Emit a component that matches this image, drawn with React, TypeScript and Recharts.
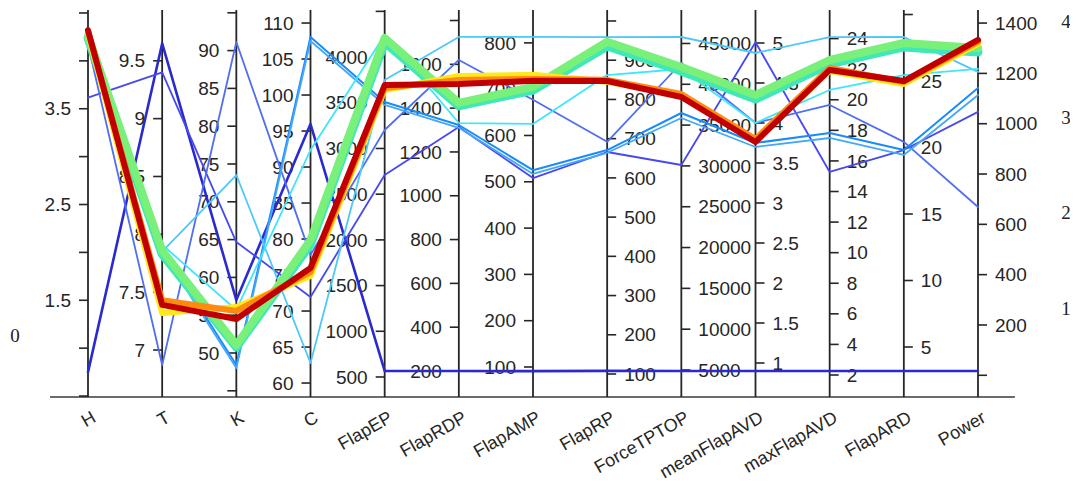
import React from 'react';
import { LineChart, Line, XAxis, YAxis, ReferenceLine, ReferenceDot } from 'recharts';

// ---- dimensions / axes ----
const dims = ['H', 'T', 'K', 'C', 'FlapEP', 'FlapRDP', 'FlapAMP', 'FlapRP', 'ForceTPTOP', 'meanFlapAVD', 'maxFlapAVD', 'FlapARD', 'Power'];
const axisMin = [0.49, 6.594, 44.18, 58.06, 281, 81.3, 35.2, 41.4, 1692, 0.575, 0.561, 1.24, -86.3];
const axisMax = [4.531, 9.939, 95.37, 111.81, 4515, 1848, 871, 1028, 49100, 5.4125, 25.87, 30.34, 1452];
const tickSide = ['left', 'left', 'left', 'left', 'left', 'left', 'left', 'right', 'right', 'right', 'right', 'right', 'right'];

const ticksH = [0.5, 1, 1.5, 2, 2.5, 3, 3.5, 4, 4.5];
const labelsH = ['', '', '1.5', '', '2.5', '', '3.5', '', ''];
const ticksT = [7, 7.5, 8, 8.5, 9, 9.5];
const labelsT = ['7', '7.5', '8', '8.5', '9', '9.5'];
const ticksK = [45, 50, 55, 60, 65, 70, 75, 80, 85, 90, 95];
const labelsK = ['', '50', '55', '60', '65', '70', '75', '80', '85', '90', ''];
const ticksC = [60, 65, 70, 75, 80, 85, 90, 95, 100, 105, 110];
const labelsC = ['60', '65', '70', '75', '80', '85', '90', '95', '100', '105', '110'];
const ticksEP = [500, 1000, 1500, 2000, 2500, 3000, 3500, 4000, 4500];
const labelsEP = ['500', '1000', '1500', '2000', '2500', '3000', '3500', '4000', ''];
const ticksRDP = [200, 400, 600, 800, 1000, 1200, 1400, 1600, 1800];
const labelsRDP = ['200', '400', '600', '800', '1000', '1200', '1400', '1600', ''];
const ticksAMP = [100, 200, 300, 400, 500, 600, 700, 800];
const labelsAMP = ['100', '200', '300', '400', '500', '600', '700', '800'];
const ticksRP = [100, 200, 300, 400, 500, 600, 700, 800, 900, 1000];
const labelsRP = ['100', '200', '300', '400', '500', '600', '700', '800', '900', ''];
const ticksTP = [5000, 10000, 15000, 20000, 25000, 30000, 35000, 40000, 45000];
const labelsTP = ['5000', '10000', '15000', '20000', '25000', '30000', '35000', '40000', '45000'];
const ticksMean = [1, 1.5, 2, 2.5, 3, 3.5, 4, 4.5, 5];
const labelsMean = ['1', '1.5', '2', '2.5', '3', '3.5', '4', '4.5', '5'];
const ticksMax = [2, 4, 6, 8, 10, 12, 14, 16, 18, 20, 22, 24];
const labelsMax = ['2', '4', '6', '8', '10', '12', '14', '16', '18', '20', '22', '24'];
const ticksARD = [5, 10, 15, 20, 25, 30];
const labelsARD = ['5', '10', '15', '20', '25', ''];
const ticksP = [0, 200, 400, 600, 800, 1000, 1200, 1400];
const labelsP = ['', '200', '400', '600', '800', '1000', '1200', '1400'];

const axisTicks = [ticksH, ticksT, ticksK, ticksC, ticksEP, ticksRDP, ticksAMP, ticksRP, ticksTP, ticksMean, ticksMax, ticksARD, ticksP];
const axisLabels = [labelsH, labelsT, labelsK, labelsC, labelsEP, labelsRDP, labelsAMP, labelsRP, labelsTP, labelsMean, labelsMax, labelsARD, labelsP];

// side labels (colour scale labels)
const sideLabels = ['0', '1', '2', '3', '4'];

// ---- series (real units, one value per dimension) ----
const navy = [0.75, 9.65, 57.0, 95.97, 566, 200, 91, 108, 4878, 0.9, 2.26, 3.2, 17];
const blue1 = [3.615, 9.40, 64.68, 71.94, 2710, 1314, 508, 666, 30113, 5.01, 15.28, 19.81, 1047];
const blue2 = [4.17, 6.87, 91.14, 77.8, 3202, 1620, 677, 692, 42608, 4.0, 19.66, 20.42, 669];
const blue3 = [4.26, 7.88, 48.41, 108.06, 3508, 1323, 525, 671, 36483, 3.75, 17.83, 19.81, 1142];
const blue4 = [4.24, 7.85, 48.0, 107.5, 3476, 1310, 517, 664, 35870, 3.70, 17.5, 19.44, 1114];
const cyan1 = [4.22, 7.85, 73.54, 62.78, 3749, 1725, 813, 959, 45793, 4.875, 24.1, 28.31, 1206];
const cyan2 = [4.24, 7.91, 55.69, 92.36, 4241, 1332, 625, 862, 41873, 4.0, 20.64, 25.45, 1218];
const teal = [4.24, 7.83, 50.8, 79.3, 4165, 1410, 698, 936, 41630, 4.30, 22.34, 27.56, 1285];
const green = [4.26, 7.86, 51.06, 79.86, 4209, 1424, 705, 947, 42118, 4.35, 22.6, 27.86, 1301];
const yellow = [4.29, 7.32, 56.08, 74.86, 3640, 1547, 731, 845, 38690, 3.79, 21.88, 24.78, 1317];
const orange = [4.31, 7.43, 55.56, 75.42, 3662, 1528, 722, 850, 38810, 3.80, 22.08, 24.93, 1325];
const red = [4.32, 7.39, 54.5, 75.97, 3694, 1510, 718, 847, 38443, 3.763, 21.95, 25.0, 1333];

const series = [
  { key: 'navy', values: navy, color: '#2a2ad0', width: 2.6 },
  { key: 'blue1', values: blue1, color: '#4848f2', width: 1.8 },
  { key: 'blue2', values: blue2, color: '#4f6ef2', width: 1.8 },
  { key: 'blue3', values: blue3, color: '#1a8cf8', width: 2.0 },
  { key: 'blue4', values: blue4, color: '#45a6fb', width: 1.8 },
  { key: 'cyan1', values: cyan1, color: '#4ec8f7', width: 1.8 },
  { key: 'cyan2', values: cyan2, color: '#3fe6fa', width: 1.8 },
  { key: 'teal', values: teal, color: '#40e8b8', width: 9 },
  { key: 'green', values: green, color: '#78f07a', width: 8 },
  { key: 'yellow', values: yellow, color: '#ffe81c', width: 6 },
  { key: 'orange', values: orange, color: '#ff8a10', width: 6 },
  { key: 'red', values: red, color: '#c00000', width: 6 },
];

const norm = (v: number, i: number) => (v - axisMin[i]) / (axisMax[i] - axisMin[i]);

const rows = dims.map((name, i) => {
  const row: any = { i, name };
  series.forEach((s) => {
    row[s.key] = norm(s.values[i], i);
  });
  return row;
});

const FONT = 'Liberation Sans, Arial, Helvetica, sans-serif';
const INK = '#262626';

const makeTick = (side: string, label: string) => (p: any) => {
  const { cx, cy } = p;
  if (cx == null || cy == null) return <g />;
  const left = side === 'left';
  return (
    <g>
      <line x1={left ? cx - 9 : cx} x2={left ? cx : cx + 9} y1={cy} y2={cy} stroke={INK} strokeWidth={1.6} />
      {label ? (
        <text x={left ? cx - 17 : cx + 17} y={cy} dy="0.35em" textAnchor={left ? 'end' : 'start'} fontSize={19} fontFamily={FONT} fill={INK}>
          {label}
        </text>
      ) : null}
    </g>
  );
};

const makeCat = (label: string) => (p: any) => {
  const { cx, cy } = p;
  if (cx == null || cy == null) return <g />;
  const x = cx + 9;
  const y = cy + 24;
  return (
    <text x={x} y={y} textAnchor="end" fontSize={18} fontFamily={FONT} fill={INK} transform={`rotate(-30, ${x}, ${y})`}>
      {label}
    </text>
  );
};

export default function App() {
  const W = 1062;
  const H = 479;
  const sidePos = [
    { x: 7, y: 327 },
    { x: 1058, y: 300 },
    { x: 1058, y: 204 },
    { x: 1058, y: 109 },
    { x: 1058, y: 13 },
  ];
  return (
    <div style={{ position: 'relative', width: W, height: H }}>
      <LineChart width={W} height={H} data={rows} margin={{ top: 2, right: 92, bottom: 90, left: 80 }}>
        <XAxis type="number" dataKey="i" domain={[0, 12]} hide />
        <YAxis type="number" domain={[0, 1]} hide />
        <ReferenceLine
          zIndex={50}
          segment={[{ x: -0.512, y: 0 }, { x: 12.498, y: 0 }]}
          stroke="#3a3a3a"
          strokeWidth={1.6}
          ifOverflow="visible"
        />
        {dims.map((d, i) => (
          <ReferenceLine key={'ax' + d} zIndex={50} x={i} stroke={INK} strokeWidth={1.8} ifOverflow="visible" />
        ))}
        {dims.map((d, i) =>
          axisTicks[i].map((t, j) => (
            <ReferenceDot
              key={'t' + d + j}
              zIndex={60}
              x={i}
              y={norm(t, i)}
              ifOverflow="visible"
              shape={makeTick(tickSide[i], axisLabels[i][j])}
            />
          ))
        )}
        {dims.map((d, i) => (
          <ReferenceDot key={'c' + d} zIndex={60} x={i} y={0} ifOverflow="visible" shape={makeCat(d)} />
        ))}
        {series.map((s, k) => (
          <Line
            key={s.key}
            zIndex={400 + k}
            type="linear"
            dataKey={s.key}
            stroke={s.color}
            strokeWidth={s.width}
            strokeLinejoin="round"
            strokeLinecap="round"
            dot={false}
            activeDot={false}
            isAnimationActive={false}
          />
        ))}
      </LineChart>
      <svg width={W} height={H} style={{ position: 'absolute', left: 0, top: 0, pointerEvents: 'none', overflow: 'visible' }}>
        {sideLabels.map((l, k) => (
          <text key={l} x={sidePos[k].x} y={sidePos[k].y} textAnchor="middle" dy="0.35em" fontSize={19} fontFamily="Liberation Serif, Times New Roman, serif" fill="#222">
            {l}
          </text>
        ))}
      </svg>
    </div>
  );
}
